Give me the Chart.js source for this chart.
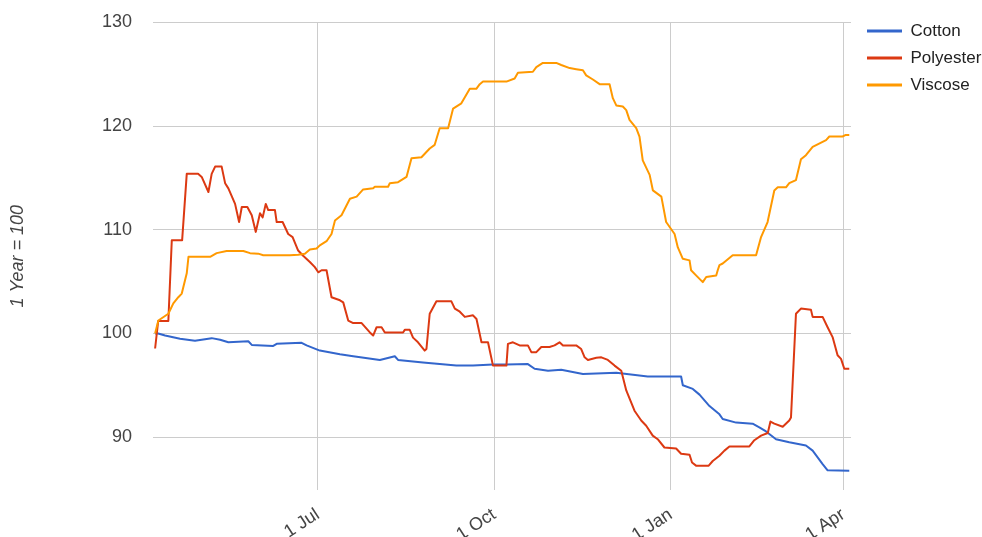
<!DOCTYPE html>
<html>
<head>
<meta charset="utf-8">
<script src="https://cdn.jsdelivr.net/npm/chart.js@4.4.0/dist/chart.umd.min.js"></script>
<style>
  body { margin: 0; background: #fff; }
  #wrap { width: 982px; height: 537px; }
</style>
</head>
<body>
<div id="wrap"><canvas id="myChart"></canvas></div>
<script>
// x values are days counted from 1 April of the first year
const tickDays = [91, 183, 275, 365];
const tickLabels = ['1 Jul', '1 Oct', '1 Jan', '1 Apr'];
const yTicks = [90, 100, 110, 120, 130];

const cottonDays = [6.1, 7.7, 11.3, 19.1, 26.9, 35.6, 40.0, 44.3, 54.7, 56.5, 67.7, 69.5, 82.5, 85.1, 92.0, 102.5, 109.4, 123.3, 131.1, 132.8, 145.8, 163.2, 171.9, 182.3, 189.3, 200.5, 204.0, 211.0, 217.9, 229.2, 246.6, 263.0, 280.4, 281.3, 286.5, 290.0, 295.2, 300.4, 302.1, 309.1, 317.7, 321.2, 324.7, 329.9, 336.8, 345.5, 349.0, 354.2, 356.8, 368.1];
const cotton = [100.0, 100.0, 99.8, 99.5, 99.3, 99.55, 99.4, 99.15, 99.25, 98.9, 98.8, 99.0, 99.1, 98.85, 98.35, 98.0, 97.8, 97.45, 97.8, 97.45, 97.2, 96.9, 96.9, 97.0, 97.0, 97.05, 96.6, 96.4, 96.5, 96.1, 96.2, 95.85, 95.85, 95.0, 94.65, 94.1, 93.0, 92.2, 91.75, 91.4, 91.3, 90.95, 90.55, 89.8, 89.5, 89.2, 88.7, 87.4, 86.8, 86.75];

const polyDays = [6.1, 7.7, 13.0, 14.8, 20.2, 22.6, 28.5, 30.4, 33.9, 35.6, 37.4, 40.8, 42.6, 44.3, 47.8, 49.9, 51.3, 54.2, 56.5, 58.6, 60.8, 62.2, 63.8, 65.1, 68.6, 69.5, 72.6, 75.5, 77.8, 80.7, 83.3, 86.8, 89.4, 91.2, 92.9, 95.5, 98.1, 102.5, 104.2, 106.8, 109.4, 113.8, 118.1, 119.8, 121.6, 124.2, 125.9, 135.4, 136.3, 138.9, 140.6, 143.2, 146.7, 147.6, 149.3, 152.8, 160.6, 162.4, 165.0, 167.6, 171.9, 173.7, 176.3, 179.7, 182.3, 189.3, 190.1, 192.7, 196.2, 200.5, 202.3, 204.9, 207.5, 211.8, 214.4, 217.0, 218.8, 225.7, 228.3, 230.1, 231.8, 236.2, 238.8, 242.2, 245.7, 249.2, 251.8, 256.1, 259.6, 262.2, 265.6, 268.2, 271.7, 277.8, 280.4, 284.8, 286.1, 288.2, 294.8, 296.9, 300.4, 303.0, 305.6, 316.0, 318.6, 322.1, 325.6, 327.0, 329.0, 333.4, 336.8, 337.7, 340.3, 342.9, 348.1, 349.0, 354.2, 356.8, 359.4, 362.0, 363.8, 365.5, 368.1];
const polyester = [98.55, 101.2, 101.2, 109.0, 109.0, 115.4, 115.4, 115.1, 113.65, 115.4, 116.1, 116.1, 114.5, 114.0, 112.5, 110.75, 112.2, 112.2, 111.4, 109.8, 111.6, 111.2, 112.5, 111.9, 111.9, 110.75, 110.75, 109.6, 109.3, 108.0, 107.5, 106.9, 106.4, 105.9, 106.1, 106.1, 103.5, 103.2, 103.0, 101.25, 101.0, 101.0, 100.1, 99.8, 100.6, 100.6, 100.1, 100.1, 100.35, 100.35, 99.6, 99.15, 98.35, 98.5, 101.9, 103.1, 103.1, 102.4, 102.1, 101.6, 101.75, 101.4, 99.15, 99.15, 96.9, 96.9, 99.0, 99.15, 98.85, 98.85, 98.2, 98.2, 98.7, 98.7, 98.85, 99.15, 98.85, 98.85, 98.5, 97.7, 97.45, 97.65, 97.7, 97.45, 96.9, 96.4, 94.5, 92.55, 91.6, 91.1, 90.15, 89.8, 89.0, 88.9, 88.4, 88.3, 87.55, 87.25, 87.25, 87.7, 88.2, 88.7, 89.1, 89.1, 89.7, 90.15, 90.4, 91.5, 91.3, 91.0, 91.6, 91.9, 101.9, 102.4, 102.3, 101.6, 101.6, 100.6, 99.65, 97.9, 97.55, 96.6, 96.6];

const viscoseDays = [6.1, 7.8, 13.0, 15.6, 18.2, 20.0, 22.6, 23.5, 34.8, 38.2, 43.4, 52.1, 55.6, 59.9, 62.5, 76.4, 80.7, 84.2, 86.8, 90.3, 92.0, 95.5, 98.1, 99.9, 103.3, 107.7, 111.2, 114.6, 119.8, 120.7, 127.6, 128.5, 132.8, 137.2, 139.8, 145.0, 149.3, 151.9, 154.5, 158.9, 161.5, 165.8, 170.2, 173.6, 175.4, 177.1, 189.3, 193.6, 195.3, 203.1, 204.9, 208.3, 215.3, 217.9, 222.3, 225.7, 229.2, 230.9, 234.4, 237.9, 243.1, 244.8, 246.6, 250.0, 251.8, 253.5, 257.0, 258.7, 260.4, 264.0, 265.7, 270.1, 272.6, 277.0, 278.7, 281.3, 284.8, 285.6, 288.2, 291.7, 293.5, 298.7, 299.5, 300.4, 302.1, 307.3, 319.5, 322.1, 325.5, 329.0, 330.8, 335.1, 336.8, 340.3, 342.9, 345.5, 349.0, 356.0, 357.7, 364.6, 366.3, 368.1];
const viscose = [100.0, 101.25, 101.9, 102.9, 103.5, 103.85, 105.8, 107.4, 107.4, 107.75, 107.95, 107.95, 107.75, 107.7, 107.55, 107.55, 107.6, 107.7, 108.1, 108.2, 108.5, 108.9, 109.6, 110.9, 111.4, 113.0, 113.2, 113.9, 114.0, 114.15, 114.15, 114.5, 114.6, 115.1, 116.9, 117.0, 117.85, 118.2, 119.8, 119.8, 121.7, 122.2, 123.6, 123.6, 124.05, 124.3, 124.3, 124.6, 125.15, 125.25, 125.7, 126.1, 126.1, 125.9, 125.6, 125.5, 125.4, 124.9, 124.5, 124.05, 124.05, 122.7, 122.0, 121.9, 121.55, 120.6, 119.8, 119.0, 116.7, 115.3, 113.8, 113.2, 110.75, 109.6, 108.3, 107.2, 107.05, 106.1, 105.6, 104.95, 105.45, 105.6, 106.1, 106.6, 106.75, 107.55, 107.55, 109.3, 110.75, 113.8, 114.1, 114.1, 114.5, 114.8, 116.8, 117.2, 118.0, 118.65, 119.0, 119.0, 119.15, 119.15];

const toPoints = (days, vals) => days.map((d, i) => ({x: d, y: vals[i]}));
const fam = "'Liberation Sans', Arial, sans-serif";

// Chart.js puts the legend right against the plot, the original sits it a bit up and right
const legendSpot = {
  id: 'legendSpot',
  afterLayout(chart) {
    const lg = chart.legend;
    const dx = chart.chartArea.right + 6 - lg.left;
    const dy = chart.chartArea.top - 10 - lg.top;
    lg.left += dx; lg.right += dx;
    lg.top += dy; lg.bottom += dy;
  }
};

const ctx = document.getElementById('myChart').getContext('2d');

const chart = new Chart(ctx, {
  type: 'line',
  data: {
    datasets: [
      {label: 'Cotton', data: toPoints(cottonDays, cotton), borderColor: '#3366cc', backgroundColor: '#3366cc', order: 3},
      {label: 'Polyester', data: toPoints(polyDays, polyester), borderColor: '#dc3912', backgroundColor: '#dc3912', order: 2},
      {label: 'Viscose', data: toPoints(viscoseDays, viscose), borderColor: '#ff9900', backgroundColor: '#ff9900', order: 1}
    ]
  },
  options: {
    animation: false,
    responsive: true,
    maintainAspectRatio: false,
    elements: {
      point: {radius: 0},
      line: {borderWidth: 2, tension: 0, borderJoinStyle: 'round'}
    },
    layout: {padding: {top: 22.5, right: 0, bottom: 0, left: 0}},
    plugins: {
      legend: {
        position: 'right',
        align: 'start',
        maxWidth: 131,
        labels: {
          boxWidth: 35,
          boxHeight: 3,
          padding: 10,
          color: '#222',
          font: {family: fam, size: 17},
          generateLabels: c => Chart.defaults.plugins.legend.labels.generateLabels(c).map(l => Object.assign(l, {lineWidth: 0})),
          sort: (a, b) => a.datasetIndex - b.datasetIndex
        }
      },
      tooltip: {enabled: false}
    },
    scales: {
      x: {
        type: 'linear',
        min: 5,
        max: 369,
        grid: {color: '#cccccc', drawTicks: false},
        border: {display: false},
        ticks: {
          autoSkip: false,
          minRotation: 33,
          maxRotation: 33,
          padding: 14,
          color: '#444',
          font: {family: fam, size: 18},
          callback: (v, i) => tickLabels[i]
        },
        afterBuildTicks: s => { s.ticks = tickDays.map(v => ({value: v})); },
        afterFit: s => { s.height = 47; }
      },
      y: {
        min: 84.9,
        max: 130,
        // invisible tick marks give the gap between labels and plot
        grid: {color: '#cccccc', drawTicks: true, tickLength: 21, tickColor: 'rgba(0,0,0,0)'},
        border: {display: false},
        ticks: {padding: 0, color: '#444', font: {family: fam, size: 18}},
        title: {
          display: true,
          text: '1 Year = 100',
          color: '#444',
          font: {family: fam, size: 18, style: 'italic'},
          padding: {top: 7, bottom: 0}
        },
        afterBuildTicks: s => { s.ticks = yTicks.map(v => ({value: v})); },
        afterFit: s => { s.width = 153; }
      }
    }
  },
  plugins: [legendSpot]
});
</script>
</body>
</html>
